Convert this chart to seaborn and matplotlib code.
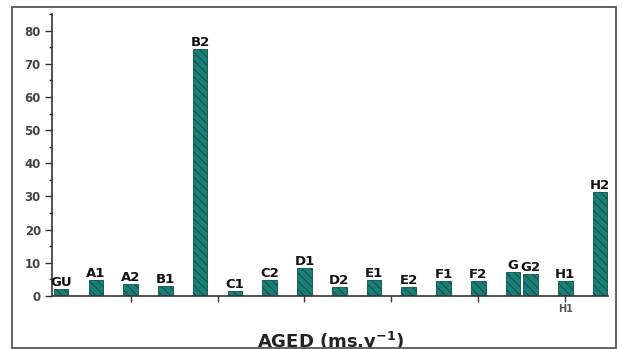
import matplotlib
matplotlib.use("Agg")
import matplotlib.pyplot as plt
from matplotlib.patches import Rectangle
from matplotlib.ticker import MultipleLocator
import seaborn as sns
import pandas as pd

# Sample groups and their AGED values
groups = ["GU", "A1", "A2", "B1", "B2", "C1", "C2", "D1", "D2",
          "E1", "E2", "F1", "F2", "G", "G2", "H1", "H2"]
aged = [2.0, 4.8, 3.7, 2.9, 74.4, 1.6, 4.7, 8.3, 2.8,
        4.9, 2.6, 4.6, 4.4, 7.3, 6.7, 4.4, 31.2]

# Slot of each bar along the x axis (G and G2 share a pair of half slots)
slots = [0, 1, 2, 3, 4, 5, 6, 7, 8, 9, 10, 11, 12, 13, 13.5, 14.5, 15.5]

# Bottom-axis tick marks; only the last one carries a label
xtick_pos = [2, 4.5, 7, 9.5, 12, 14.5]
xtick_labels = ["", "", "", "", "", "H1"]

df = pd.DataFrame({"slot": slots, "aged": aged, "group": groups})

sns.set_style("white")
plt.rcParams["font.family"] = ["DejaVu Sans"]
plt.rcParams["hatch.linewidth"] = 0.7

fig = plt.figure(figsize=(6.22, 3.49), dpi=100)
ax = fig.add_axes([52 / 622, 53 / 349, 556 / 622, 282 / 349])

sns.barplot(data=df, x="slot", y="aged", native_scale=True, width=0.84,
            color="#1a8077", saturation=1, errorbar=None,
            edgecolor="#0c4f49", linewidth=0.6, hatch="\\\\\\\\", ax=ax)

# Group names above each bar
for name, x, v in zip(groups, slots, aged):
    ax.annotate(name, (x, v), xytext=(0, 2.2), textcoords="offset points",
                ha="center", va="baseline", fontsize=9.5, fontweight="bold",
                color="#111111", clip_on=True)

ax.set_xlim(-0.26, 15.73)
ax.set_ylim(0, 85)

ax.yaxis.set_major_locator(MultipleLocator(10))
ax.yaxis.set_minor_locator(MultipleLocator(5))
ax.set_yticks(range(0, 81, 10))
ax.set_xticks(xtick_pos)
ax.set_xticklabels(xtick_labels)

ax.tick_params(axis="y", which="major", direction="out", length=5, width=1,
               color="#333333", labelsize=8.5, labelcolor="#444444", pad=3, left=True)
ax.tick_params(axis="y", which="minor", direction="out", length=2.5, width=1,
               color="#333333", left=True)
ax.tick_params(axis="x", which="major", direction="out", length=4, width=1,
               color="#333333", labelsize=7, labelcolor="#555555", pad=2, bottom=True)
for lbl in ax.get_yticklabels() + ax.get_xticklabels():
    lbl.set_fontweight("bold")

for side in ("top", "right"):
    ax.spines[side].set_visible(False)
for side in ("left", "bottom"):
    ax.spines[side].set_color("#333333")
    ax.spines[side].set_linewidth(1.2)

ax.set_xlabel("")
ax.set_ylabel("")

fig.text(331 / 622, 0.5 / 349, r"AGED (ms.y$^{\mathbf{-1}}$)", ha="center",
         va="baseline", fontsize=13, fontweight="bold", color="#222222")

# Frame round the whole figure, with white below its lower edge
fig.patches.append(Rectangle((0, 0), 1, 1.5 / 349, transform=fig.transFigure,
                             facecolor="white", edgecolor="none", zorder=5))
fig.patches.append(Rectangle((12 / 622, 1.5 / 349), 604 / 622, 340.5 / 349,
                             transform=fig.transFigure, fill=False, zorder=6,
                             edgecolor="#555555", linewidth=1.3))

fig.savefig("out.png", dpi=100)
